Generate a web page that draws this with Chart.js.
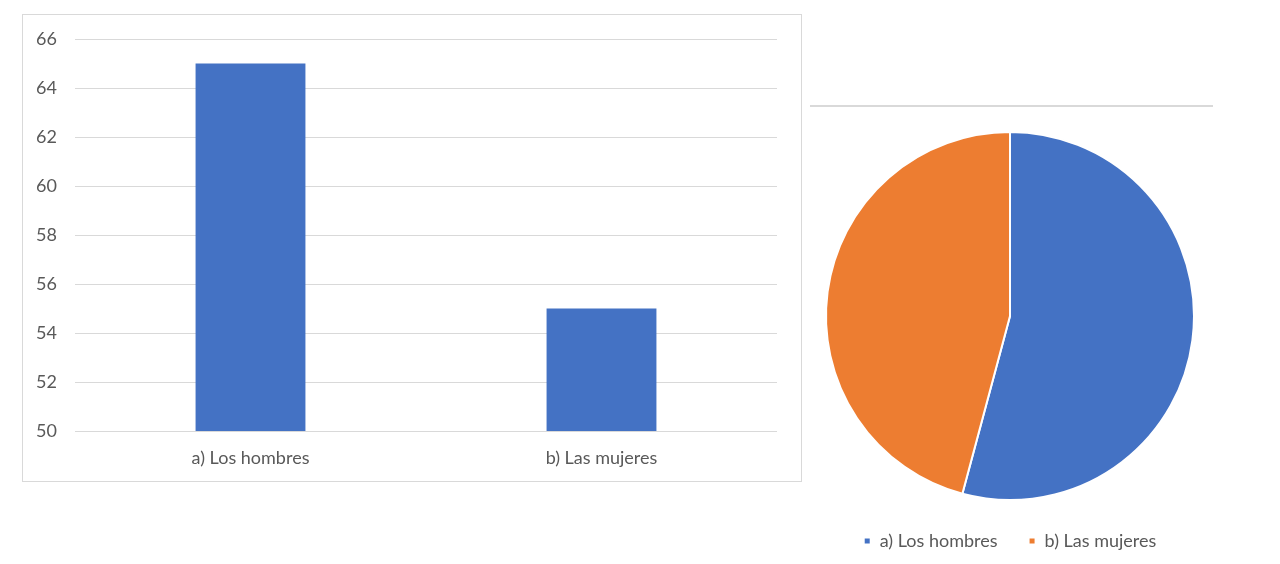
<!DOCTYPE html>
<html><head><meta charset="utf-8">
<script src="https://cdn.jsdelivr.net/npm/chart.js@4"></script>
<style>
html,body{margin:0;padding:0;background:#fff;width:1280px;height:564px;overflow:hidden;}
#barBox{position:absolute;left:22px;top:14px;width:778px;height:466px;border:1px solid #d9d9d9;}
#sep{position:absolute;left:810px;top:105px;width:403px;height:0;border-top:2px solid #d9d9d9;}
#pieBox{position:absolute;left:808px;top:121px;width:404px;height:443px;}
</style></head><body>
<div id="barBox"><canvas id="bar"></canvas></div>
<div id="sep"></div>
<div id="pieBox"><canvas id="pie"></canvas></div>
<script>
const categories = ["a) Los hombres", "b) Las mujeres"];
const values = [65, 55];
const yTicks = [50, 52, 54, 56, 58, 60, 62, 64, 66];
const colors = ["#4472C4", "#ED7D31"];
const FONT = "Lato, 'Open Sans', sans-serif";
const TXT = "#595959";

new Chart(document.getElementById('bar'), {
  type: 'bar',
  data: { labels: categories, datasets: [{ data: values, backgroundColor: colors[0], barPercentage: 0.313, categoryPercentage: 1 }] },
  options: {
    responsive: true, maintainAspectRatio: false, animation: false,
    layout: { padding: { left: 0, right: 24, top: 24, bottom: 0 } },
    plugins: { legend: { display: false }, tooltip: { enabled: false } },
    scales: {
      x: {
        grid: { display: false, drawTicks: false },
        border: { display: false },
        ticks: { color: TXT, font: { family: FONT, size: 18 }, padding: 16 },
        afterFit: s => { s.height = 50; s.paddingLeft = 0; s.paddingRight = 0; }
      },
      y: {
        min: yTicks[0], max: yTicks[yTicks.length - 1],
        afterBuildTicks: s => { s.ticks = yTicks.map(v => ({ value: v })); },
        grid: { color: "#d9d9d9", lineWidth: 1, drawTicks: false },
        border: { display: false },
        ticks: { color: TXT, font: { family: FONT, size: 18 }, padding: 18 },
        afterFit: s => { s.width = 52; s.paddingTop = 0; s.paddingBottom = 0; }
      }
    }
  }
});

new Chart(document.getElementById('pie'), {
  type: 'pie',
  data: { labels: categories, datasets: [{ data: values, backgroundColor: colors, borderColor: "#fff", borderWidth: 2 }] },
  options: {
    responsive: true, maintainAspectRatio: false, animation: false,
    layout: { padding: { top: 10, bottom: 4, left: 0, right: 0 } },
    plugins: {
      tooltip: { enabled: false },
      legend: {
        position: 'bottom',
        labels: { color: TXT, font: { family: FONT, size: 18 }, boxWidth: 7, boxHeight: 7, padding: 31 }
      }
    }
  }
});
</script>
</body></html>
